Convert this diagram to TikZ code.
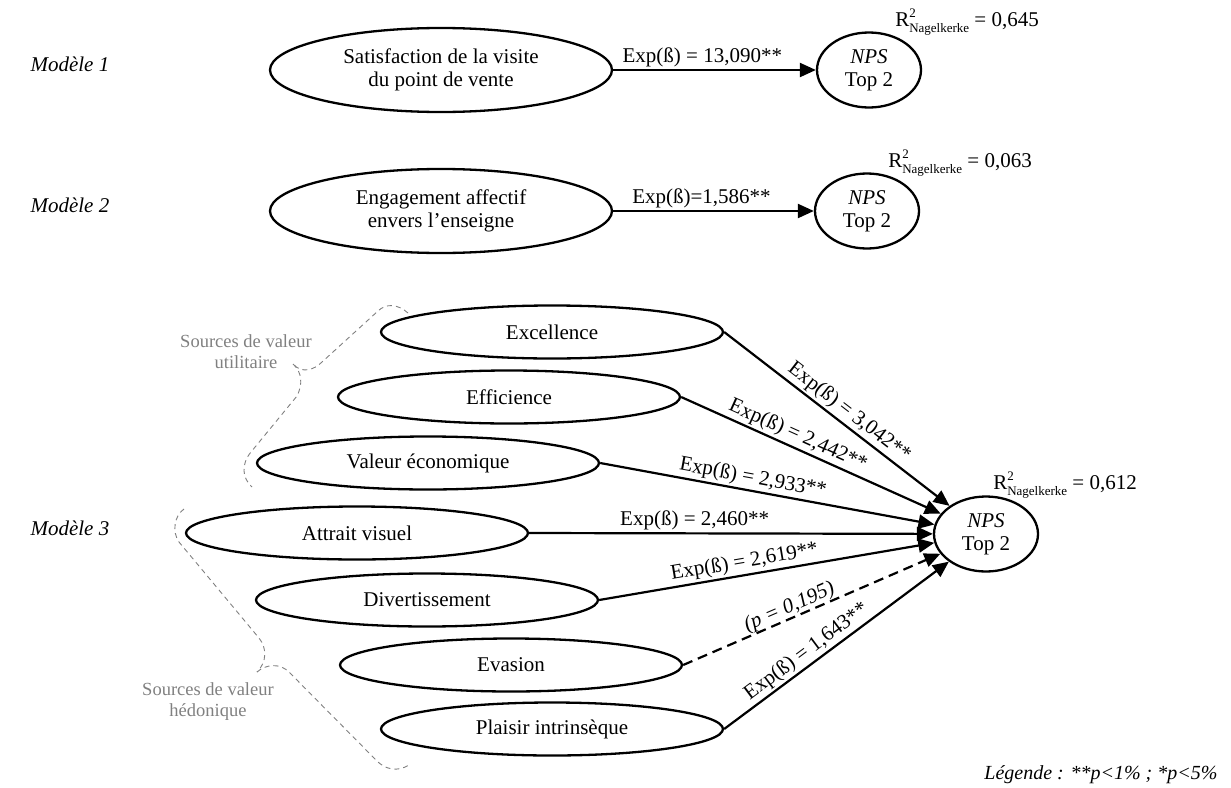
\documentclass[tikz,border=0pt]{standalone}
\usepackage{fontspec}
\setmainfont{Liberation Serif}
\usepackage{tikz}
\usetikzlibrary{arrows.meta,shapes.geometric}
\definecolor{greytx}{HTML}{808080}
\tikzset{
  ell/.style={draw,line width=2.3pt,ellipse,minimum width=342pt,minimum height=53pt,inner sep=0pt,align=center},
  npsb/.style={draw,line width=2.3pt,ellipse,minimum width=104pt,minimum height=75pt,inner sep=0pt,align=center},
  ar/.style={-{Triangle[length=16pt,width=14pt]},line width=2.2pt},
  lab/.style={sloped,above,inner sep=2pt},
  brc/.style={greytx,line width=0.9pt,dash pattern=on 5pt off 4pt},
  src/.style={text=greytx,align=center,font=\fontsize{18.5}{21}\selectfont},
  mod/.style={anchor=west,font=\fontsize{21}{23}\selectfont\itshape}
}
\newcommand{\rnag}[1]{R\rlap{\raisebox{0.42em}{\fontsize{13}{13}\selectfont 2}}\raisebox{-0.28em}{\fontsize{13}{13}\selectfont Nagelkerke} = #1}

\begin{document}
\begin{tikzpicture}[x=1pt,y=-1pt,font=\fontsize{21}{23}\selectfont]
\useasboundingbox (0,0) rectangle (1231,787);
\node[mod] (mod1) at (27,64) {Modèle 1};
\node[mod] (mod2) at (27,205) {Modèle 2};
\node[mod] (mod3) at (27,528) {Modèle 3};
\node[ell,minimum height=84pt] (sat) at (441,70) {Satisfaction de la visite\\du point de vente};
\node[npsb] (nps1) at (869,70) {\textit{NPS}\\Top 2};
\draw[ar] (sat.east) -- node[lab,pos=0.44]{Exp(ß) = 13,090**} (nps1);
\node (r1) at (967,22) {\rnag{0,645}};
\node[ell,minimum height=84pt] (eng) at (441,211) {Engagement affectif\\envers l’enseigne};
\node[npsb] (nps2) at (867,211) {\textit{NPS}\\Top 2};
\draw[ar] (eng.east) -- node[lab,pos=0.44]{Exp(ß)=1,586**} (nps2);
\node (r2) at (960,163) {\rnag{0,063}};
\node[ell] (exc) at (552,332) {Excellence};
\node[ell] (eff) at (509,397) {Efficience};
\node[ell] (eco) at (428,463) {Valeur économique};
\node[ell] (att) at (357,533) {Attrait visuel};
\node[ell] (div) at (427,600) {Divertissement};
\node[ell] (eva) at (511,665) {Evasion};
\node[ell] (pla) at (552,729) {Plaisir intrinsèque};
\node[npsb] (nps3) at (986,534) {\textit{NPS}\\Top 2};
\node (r3) at (1065,485) {\rnag{0,612}};
\draw[ar] (exc.east) -- node[lab,pos=0.52]{Exp(ß) = 3,042**} (nps3);
\draw[ar] (eff.east) -- node[lab,pos=0.43]{Exp(ß) = 2,442**} (nps3);
\draw[ar] (eco.east) -- node[lab,pos=0.45]{Exp(ß) = 2,933**} (nps3);
\draw[ar] (att.east) -- node[lab,pos=0.41]{Exp(ß) = 2,460**} (nps3);
\draw[ar] (div.east) -- node[lab,pos=0.44]{Exp(ß) = 2,619**} (nps3);
\draw[ar,dash pattern=on 10pt off 6pt] (eva.east) -- node[lab,pos=0.43,inner sep=0pt]{\textit{(p = 0,195)}} (nps3);
\draw[ar] (pla.east) -- node[lab,pos=0.40]{Exp(ß) = 1,643**} (nps3);
\node[src] (srcu) at (246,352) {Sources de valeur\\utilitaire};
\node[src] (srch) at (208,702) {Sources de valeur\\hédonique};
\draw[brc] (408,313) .. controls (398,304) and (386,303) .. (378,311) -- (322,362) .. controls (314,370) and (302,374) .. (293,364);
\draw[brc] (293,364) .. controls (302,372) and (303,384) .. (297,396) -- (251,452) .. controls (241,464) and (242,478) .. (252,487);
\draw[brc] (184,509) .. controls (174,516) and (172,532) .. (179,542) -- (259,638) .. controls (267,648) and (267,662) .. (257,672);
\draw[brc] (257,672) .. controls (266,664) and (280,663) .. (289,672) -- (376,760) .. controls (385,770) and (398,772) .. (409,765);
\node[anchor=east,font=\fontsize{20}{23}\selectfont\itshape] (leg) at (1221,775) {Légende : **p<1\% ; *p<5\%};
\end{tikzpicture}
\end{document}
